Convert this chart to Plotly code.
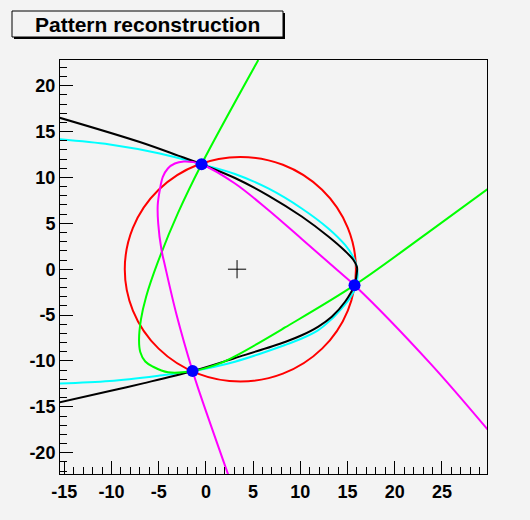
import plotly.graph_objects as go

# ---- data ----
green_x = [5.55, -0.46, -2.95, -5.12, -6.33, -6.88, -7.08, -6.95, -6.42, -5.59, -4.00, -1.41, 1.48, 3.61, 8.38, 15.74, 23.41, 31.0]
green_y = [22.80, 11.44, 6.13, 0.68, -3.00, -5.50, -7.72, -9.02, -10.06, -10.63, -11.24, -11.10, -10.26, -9.19, -6.35, -1.74, 3.91, 9.60]

black_x = [-15.6, -7.00, -2.94, -0.46, 3.08, 6.61, 10.15, 12.97, 14.74, 15.59, 16.00, 15.94, 15.74, 14.74, 13.33, 11.91, 10.15, 8.38, 3.08, -1.41, -6.65, -10.18, -15.6]
black_y = [16.54, 13.86, 12.38, 11.44, 9.94, 8.03, 5.74, 3.56, 1.98, 1.06, 0.24, -0.74, -1.74, -3.55, -5.18, -6.25, -7.20, -7.93, -9.68, -11.10, -12.44, -13.28, -14.53]

cyan_x = [-15.6, -10.18, -4.88, -0.46, 3.08, 6.61, 10.15, 12.97, 14.74, 15.54, 15.96, 16.07, 15.86, 15.27, 14.39, 13.20, 11.91, 10.15, 8.38, 3.08, -1.41, -4.88, -10.18, -15.6]
cyan_y = [14.17, 13.59, 12.61, 11.44, 10.38, 8.80, 6.62, 4.44, 2.64, 1.44, 0.35, -0.63, -1.94, -3.14, -4.26, -5.55, -6.63, -7.55, -8.26, -10.08, -11.10, -11.59, -12.19, -12.47]

magenta_x = [2.40, -0.64, -1.41, -3.10, -4.35, -4.70, -5.05, -5.10, -4.88, -4.56, -4.03, -3.29, -2.33, -1.38, -0.46, 3.08, 6.61, 10.15, 14.03, 15.74, 23.76, 31.0]
magenta_y = [-22.50, -13.53, -11.10, -4.99, 0.46, 2.09, 5.00, 7.00, 8.63, 10.05, 10.98, 11.52, 11.74, 11.68, 11.44, 9.34, 6.45, 3.29, -0.20, -1.74, -10.26, -18.90]

circle_cx, circle_cy, circle_r = 3.65, 0.0, 12.24
center_x, center_y = [3.3], [0.0]

hits_x = [-0.46, 15.74, -1.41]
hits_y = [11.44, -1.74, -11.10]

x_range = [-15.45, 29.77]
y_range = [-22.32, 22.80]
x_ticks = [-15, -10, -5, 0, 5, 10, 15, 20, 25]
x_tick_labels = ["-15", "-10", "-5", "0", "5", "10", "15", "20", "25"]
y_ticks = [-20, -15, -10, -5, 0, 5, 10, 15, 20]
y_tick_labels = ["-20", "-15", "-10", "-5", "0", "5", "10", "15", "20"]

title_text = "Pattern reconstruction"

# ---- layout geometry ----
W, H = 530, 520
ML, MR, MT, MB = 60, 43, 60, 46
PW, PH = W - ML - MR, H - MT - MB

def pxx(px):
    return (px - ML) / PW

def pxy(py):
    return (H - MB - py) / PH

BG = "#f3f3f3"
fig = go.Figure()

fig.add_shape(type="circle", xref="x", yref="y", layer="below",
              x0=circle_cx - circle_r, x1=circle_cx + circle_r,
              y0=circle_cy - circle_r, y1=circle_cy + circle_r,
              line=dict(color="#ff0000", width=2))

for xs, ys, col in [(cyan_x, cyan_y, "#00ffff"), (black_x, black_y, "#000000"),
                    (green_x, green_y, "#00ff00"), (magenta_x, magenta_y, "#ff00ff")]:
    fig.add_trace(go.Scatter(x=xs, y=ys, mode="lines",
                             line=dict(color=col, width=2, shape="spline", smoothing=1.0),
                             hoverinfo="skip", showlegend=False))

fig.add_trace(go.Scatter(x=center_x, y=center_y, mode="markers",
                         marker=dict(symbol="cross-thin", size=13,
                                     line=dict(color="black", width=1)),
                         showlegend=False))
fig.add_trace(go.Scatter(x=hits_x, y=hits_y, mode="markers",
                         marker=dict(symbol="circle", size=12, color="#0000ff",
                                     line=dict(width=0)),
                         showlegend=False))

# title box with shadow
fig.add_shape(type="rect", xref="paper", yref="paper",
              x0=pxx(14), x1=pxx(285), y0=pxy(39), y1=pxy(13),
              line=dict(width=0), fillcolor="#000000", layer="above")
fig.add_shape(type="rect", xref="paper", yref="paper",
              x0=pxx(12), x1=pxx(283), y0=pxy(37), y1=pxy(11),
              line=dict(color="black", width=1), fillcolor=BG, layer="above")
fig.add_annotation(x=pxx(147.5), y=pxy(24), xref="paper", yref="paper",
                   text="<b>" + title_text + "</b>", showarrow=False,
                   font=dict(family="Liberation Sans, Arial", size=21, color="black"),
                   xanchor="center", yanchor="middle")

axis_common = dict(showgrid=False, zeroline=False, showline=True, mirror=True,
                   linecolor="black", linewidth=1, ticks="inside", ticklen=13,
                   tickwidth=1, tickcolor="black",
                   tickfont=dict(family="Liberation Sans, Arial", size=18, color="black"),
                   minor=dict(ticks="inside", ticklen=7, dtick=1, tickcolor="black", tickwidth=1))

fig.update_xaxes(range=x_range, tickmode="array", tickvals=x_ticks,
                 ticktext=["<b>" + t + "</b>" for t in x_tick_labels],
                 ticklabelstandoff=1, **axis_common)
fig.update_yaxes(range=y_range, tickmode="array", tickvals=y_ticks,
                 ticktext=["<b>" + t + "</b>" for t in y_tick_labels],
                 ticklabelstandoff=0, **axis_common)

fig.update_layout(width=W, height=H, margin=dict(l=ML, r=MR, t=MT, b=MB),
                  paper_bgcolor=BG, plot_bgcolor=BG,
                  font=dict(family="Liberation Sans, Arial"))

fig.write_html("out.html")
